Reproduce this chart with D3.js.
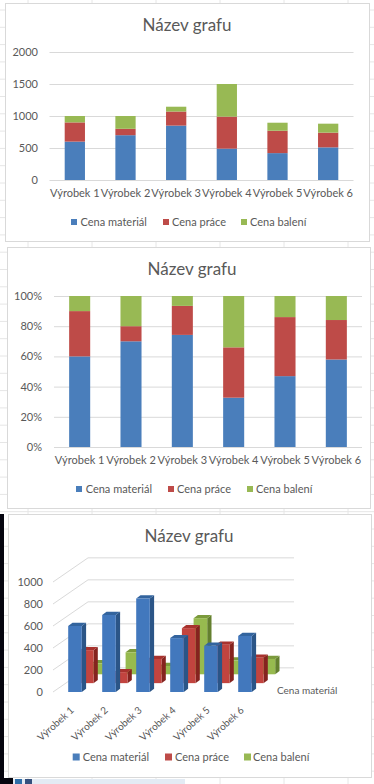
<!DOCTYPE html>
<html>
<head>
<meta charset="utf-8">
<script src="https://cdn.jsdelivr.net/npm/d3@7"></script>
<style>
    html, body { margin: 0; padding: 0; background: #fff; overflow: hidden; }
    svg { display: block; }
    text { font-family: Lato, "Open Sans", sans-serif; fill: #595959; }
    .title { font-size: 17px; }
    .tick-label { font-size: 11px; }
    .legend-label { font-size: 11px; }
    .cat { font-size: 10px; }
</style>
</head>
<body>
<svg id="chart" width="374" height="784"></svg>
<script>
const categories = ["Výrobek 1", "Výrobek 2", "Výrobek 3", "Výrobek 4", "Výrobek 5", "Výrobek 6"];
const seriesNames = ["Cena materiál", "Cena práce", "Cena balení"];
const material = [600, 700, 850, 490, 420, 510];
const prace = [300, 100, 220, 500, 350, 230];
const baleni = [100, 200, 75, 510, 125, 140];
const stackedTicks = [0, 500, 1000, 1500, 2000];
const percentTicks = [0, 0.2, 0.4, 0.6, 0.8, 1];
const depthTicks = [0, 200, 400, 600, 800, 1000];

const colors = ["#4a7ebb", "#be4b48", "#98b954"];
const colors3d = [
    {front: "#4278bd", side: "#2b5587", top: "#33649e"},
    {front: "#c2443f", side: "#85231f", top: "#a8322e"},
    {front: "#97ba4f", side: "#64802f", top: "#7b9a3c"}
];

const rows = categories.map((c, i) => ({
    category: c,
    [seriesNames[0]]: material[i],
    [seriesNames[1]]: prace[i],
    [seriesNames[2]]: baleni[i]
}));

const svg = d3.select("#chart");

// spreadsheet cells behind the charts
const sheet = svg.append("g").attr("stroke", "#e6e6e6");
sheet.selectAll("line.h").data(d3.range(10, 784, 17.3)).join("line")
    .attr("class", "h")
    .attr("x1", 0).attr("x2", 374)
    .attr("y1", d => d).attr("y2", d => d);
sheet.selectAll("line.v").data(d3.range(28, 374, 64)).join("line")
    .attr("class", "v")
    .attr("y1", 0).attr("y2", 784)
    .attr("x1", d => d).attr("x2", d => d);

function card(x, y, w, h) {
    svg.append("rect")
        .attr("x", x + 0.5).attr("y", y + 0.5)
        .attr("width", w).attr("height", h)
        .attr("fill", "#fff")
        .attr("stroke", "#d9d9d9");
}

function title(x, y) {
    svg.append("text")
        .attr("class", "title")
        .attr("x", x).attr("y", y)
        .attr("dy", ".35em")
        .attr("text-anchor", "middle")
        .text("Název grafu");
}

function legend(y, squareX, textX, size) {
    const g = svg.append("g").attr("class", "legend");
    seriesNames.forEach((name, i) => {
        g.append("rect")
            .attr("x", squareX[i]).attr("y", y - size / 2)
            .attr("width", size).attr("height", size)
            .attr("fill", colors[i]);
        g.append("text")
            .attr("class", "legend-label")
            .attr("x", textX[i]).attr("y", y)
            .attr("dy", ".35em")
            .text(name);
    });
}

function styleAxis(g) {
    g.select(".domain").remove();
    g.selectAll("text").attr("class", "tick-label").attr("fill", null);
}

function drawStacked({offset, domain, ticks, format, xRange, yRange, barPadding, labelRight}) {
    const g = svg.append("g");
    const x = d3.scaleBand().domain(categories).range(xRange).paddingInner(barPadding).paddingOuter(barPadding / 2);
    const y = d3.scaleLinear().domain(domain).range(yRange);
    const stack = d3.stack().keys(seriesNames).offset(offset)(rows);

    g.append("g")
        .attr("transform", `translate(${xRange[0]},0)`)
        .call(d3.axisLeft(y).tickValues(ticks).tickFormat(format).tickSize(-(xRange[1] - xRange[0])).tickPadding(xRange[0] - labelRight))
        .call(styleAxis)
        .call(a => a.selectAll("line").attr("stroke", "#d9d9d9"));

    g.selectAll("g.series").data(stack).join("g")
        .attr("class", "series")
        .attr("fill", (d, i) => colors[i])
        .selectAll("rect").data(d => d).join("rect")
        .attr("x", d => x(d.data.category))
        .attr("width", x.bandwidth())
        .attr("y", d => y(d[1]))
        .attr("height", d => y(d[0]) - y(d[1]));

    g.append("g")
        .attr("transform", `translate(0,${yRange[0]})`)
        .call(d3.axisBottom(x).tickSize(0).tickPadding(9))
        .call(styleAxis);
}

card(5, 3, 364, 238);
title(187, 25);
drawStacked({
    offset: d3.stackOffsetNone,
    domain: [0, 2000],
    ticks: stackedTicks,
    format: d3.format("d"),
    xRange: [49.5, 353.5],
    yRange: [180, 52],
    barPadding: 0.6,
    labelRight: 38
});
legend(222, [71, 163, 241], [80.5, 172, 250], 6);

card(7, 247, 363, 261);
title(192, 269);
drawStacked({
    offset: d3.stackOffsetExpand,
    domain: [0, 1],
    ticks: percentTicks,
    format: d3.format(".0%"),
    xRange: [54, 362],
    yRange: [447, 296],
    barPadding: 0.59,
    labelRight: 42
});
legend(489, [76, 168, 247], [85.7, 177, 256], 6);

// third chart: columns in depth, one row per series
card(8, 514, 363, 263);
title(189, 536);

const x3 = d3.scaleBand().domain(categories).range([58, 262]).paddingInner(0.6).paddingOuter(0.3);
const y3 = d3.scaleLinear().domain([0, 1000]).range([692, 582]);
const z3 = d3.scalePoint().domain(seriesNames).range([0, 23.4]);
const rise = 0.757;
const barDepth = 4.3;
const wallShift = 35;
const wallWidth = 206;
const wallLeft = 53;

const g3 = svg.append("g");

const walls = g3.append("g").attr("stroke", "#d9d9d9").attr("fill", "none");
walls.selectAll("path").data(depthTicks).join("path")
    .attr("d", d => {
        const p = d3.path();
        p.moveTo(wallLeft, y3(d));
        p.lineTo(wallLeft + wallShift, y3(d) - wallShift * 0.69);
        p.lineTo(wallLeft + wallShift + wallWidth, y3(d) - wallShift * 0.69);
        return p.toString();
    });

g3.append("g")
    .attr("transform", `translate(${wallLeft},0)`)
    .call(d3.axisLeft(y3).tickValues(depthTicks).tickFormat(d3.format("d")).tickSize(0).tickPadding(10))
    .call(styleAxis);

function polygon(points) {
    return "M" + points.map(p => p.join(",")).join("L") + "Z";
}

[2, 1, 0].forEach(s => {
    const name = seriesNames[s];
    const dz = z3(name);
    const series = g3.append("g").attr("class", "series3d");
    rows.forEach(d => {
        const left = x3(d.category) + dz;
        const right = left + x3.bandwidth();
        const bottom = y3(0) - dz * rise;
        const top = y3(d[name]) - dz * rise;
        const up = barDepth * 0.75;
        series.append("path").attr("fill", colors3d[s].side)
            .attr("d", polygon([[right, bottom], [right + barDepth, bottom - up], [right + barDepth, top - up], [right, top]]));
        series.append("path").attr("fill", colors3d[s].top)
            .attr("d", polygon([[left, top], [left + barDepth, top - up], [right + barDepth, top - up], [right, top]]));
        series.append("rect").attr("fill", colors3d[s].front)
            .attr("x", left).attr("y", top)
            .attr("width", x3.bandwidth())
            .attr("height", bottom - top);
    });
});

g3.selectAll("text.cat").data(categories).join("text")
    .attr("class", "cat")
    .attr("text-anchor", "end")
    .attr("transform", d => `translate(${x3(d) + x3.bandwidth() / 2 - 5},706) rotate(-42)`)
    .attr("dy", ".7em")
    .text(d => d);

g3.append("text")
    .attr("x", 277).attr("y", 690)
    .attr("dy", ".35em")
    .attr("font-size", 10)
    .text(seriesNames[0]);

legend(757, [72.7, 165, 244], [82.7, 175, 253], 7);

// window edge and taskbar caught in the screenshot
svg.append("rect").attr("x", 0).attr("y", 514).attr("width", 4).attr("height", 270).attr("fill", "#05050f");
svg.append("rect").attr("x", 0).attr("y", 778).attr("width", 13).attr("height", 6).attr("fill", "#05050f");
svg.append("rect").attr("x", 13).attr("y", 779).attr("width", 172).attr("height", 5).attr("fill", "#e3ebf4");
svg.append("rect").attr("x", 15).attr("y", 779).attr("width", 7).attr("height", 5).attr("fill", "#2f6ea8");
svg.append("rect").attr("x", 25).attr("y", 779).attr("width", 7).attr("height", 5).attr("fill", "#34507e");
</script>
</body>
</html>
